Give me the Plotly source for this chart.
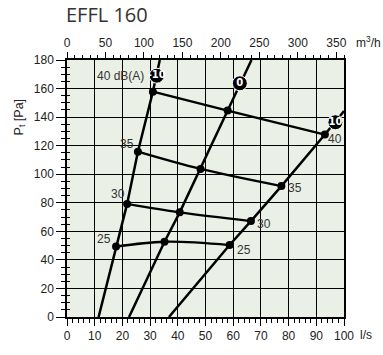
import plotly.graph_objects as go

# ---- data ----
flow_ticks = [0, 10, 20, 30, 40, 50, 60, 70, 80, 90, 100]          # l/s
flow_m3h_ticks = [0, 50, 100, 150, 200, 250, 300, 350]             # m3/h
pressure_ticks = [0, 20, 40, 60, 80, 100, 120, 140, 160, 180]      # Pa

line_m10_x = [11.4, 17.7, 21.7, 25.6, 31.0, 33.5]
line_m10_y = [0, 49.3, 79.2, 115.8, 157.8, 180]
line_0_x = [22.4, 35.2, 40.7, 48.2, 58.0, 66.6]
line_0_y = [0, 52.7, 73.3, 103.7, 144.6, 180]
line_10_x = [36.8, 58.7, 66.4, 77.4, 93.1, 100]
line_10_y = [0, 50.4, 67.2, 91.7, 127.8, 144.2]

db25_x = [17.7, 35.2, 58.7]
db25_y = [49.3, 52.7, 50.4]
db30_x = [21.7, 40.7, 66.4]
db30_y = [79.2, 73.3, 67.2]
db35_x = [25.6, 48.2, 77.4]
db35_y = [115.8, 103.7, 91.7]
db40_x = [31.0, 58.0, 93.1]
db40_y = [157.8, 144.6, 127.8]

label_left_text = ["25", "30", "35", "40 dB(A)"]
label_left_x = [13.4, 18.4, 21.6, 19.4]
label_left_y = [54.7, 86.5, 121.0, 169.0]
label_right_text = ["25", "30", "35", "40"]
label_right_x = [63.8, 71.1, 82.4, 96.6]
label_right_y = [47.2, 64.9, 90.6, 124.4]

badge_text = ["-10", "0", "10"]
badge_x = [32.4, 62.4, 96.9]
badge_y = [169.0, 163.7, 136.4]

# ---- layout geometry ----
W, H = 383, 355
ML, MR, MT, MB = 67, 39, 60, 31
PW, PH = W - ML - MR, H - MT - MB


def px_x(p):
    return (p - ML) / PW


def px_y(p):
    return (H - MB - p) / PH


FONT = "Liberation Sans, Arial, sans-serif"
TXT = "#222222"
BG = "#EBF0E7"

fig = go.Figure()

for xs, ys in [(line_m10_x, line_m10_y), (line_0_x, line_0_y), (line_10_x, line_10_y)]:
    fig.add_trace(go.Scatter(x=xs, y=ys, mode="lines",
                             line=dict(color="black", width=2.5),
                             hoverinfo="skip", showlegend=False, cliponaxis=True))

for xs, ys in [(db25_x, db25_y), (db30_x, db30_y), (db35_x, db35_y), (db40_x, db40_y)]:
    fig.add_trace(go.Scatter(x=xs, y=ys, mode="lines+markers",
                             line=dict(color="black", width=2.3, shape="spline"),
                             marker=dict(color="black", size=8),
                             hoverinfo="skip", showlegend=False))

fig.add_trace(go.Scatter(x=badge_x, y=badge_y, mode="markers+text",
                         text=badge_text, textposition="middle center",
                         textfont=dict(color="white", size=10, family="DejaVu Sans, sans-serif",
                                       weight="bold"),
                         marker=dict(color="black", size=15,
                                     line=dict(color="white", width=1)),
                         hoverinfo="skip", showlegend=False, cliponaxis=False))

# invisible traces to activate the extra axes
fig.add_trace(go.Scatter(x=[0], y=[0], xaxis="x2", yaxis="y", mode="markers",
                         marker=dict(opacity=0), hoverinfo="skip", showlegend=False))
fig.add_trace(go.Scatter(x=[0], y=[0], xaxis="x", yaxis="y3", mode="markers",
                         marker=dict(opacity=0), hoverinfo="skip", showlegend=False))

annotations = []
for t, x, y in zip(label_left_text, label_left_x, label_left_y):
    annotations.append(dict(x=x, y=y, text=t, showarrow=False, xref="x", yref="y",
                            font=dict(size=12, color="#333333", family=FONT)))
for t, x, y in zip(label_right_text, label_right_x, label_right_y):
    annotations.append(dict(x=x, y=y, text=t, showarrow=False, xref="x", yref="y",
                            font=dict(size=12, color="#333333", family=FONT)))

annotations.append(dict(x=px_x(64), y=px_y(13), xref="paper", yref="paper",
                        text="EFFL 160", showarrow=False, xanchor="left", yanchor="middle",
                        font=dict(size=20, color="#333333", family="Open Sans, sans-serif")))
annotations.append(dict(x=px_x(20), y=px_y(119), xref="paper", yref="paper",
                        text="P<sub>t</sub> [Pa]", showarrow=False, textangle=-90,
                        xanchor="center", yanchor="middle",
                        font=dict(size=12.5, color=TXT, family=FONT)))
annotations.append(dict(x=px_x(358), y=px_y(343), xref="paper", yref="paper",
                        text="l/s", showarrow=False, xanchor="left", yanchor="middle",
                        font=dict(size=12, color=TXT, family=FONT)))
annotations.append(dict(x=px_x(354), y=px_y(42), xref="paper", yref="paper",
                        text="m<sup>3</sup>/h", showarrow=False, xanchor="left", yanchor="middle",
                        font=dict(size=12, color=TXT, family=FONT)))

fig.update_layout(
    width=W, height=H,
    margin=dict(l=ML, r=MR, t=MT, b=MB, pad=0),
    paper_bgcolor="white", plot_bgcolor=BG,
    font=dict(family=FONT, size=12, color=TXT),
    showlegend=False,
    annotations=annotations,
    xaxis=dict(range=[0, 100], tickvals=flow_ticks, showgrid=True, gridcolor="black",
               gridwidth=1.4, zeroline=False, showline=True, linecolor="black", linewidth=1.5,
               mirror=True, ticks="outside", ticklen=7, tickwidth=1.3, tickcolor="black",
               minor=dict(dtick=2, ticks="outside", ticklen=4, tickwidth=1, tickcolor="black",
                          showgrid=False),
               tickfont=dict(size=12, color=TXT), fixedrange=True),
    xaxis2=dict(range=[0, 360], overlaying="x", side="top", anchor="y",
                tickvals=flow_m3h_ticks, showgrid=False, zeroline=False,
                ticks="outside", ticklen=7, tickwidth=1.3, tickcolor="black",
                minor=dict(dtick=10, ticks="outside", ticklen=4, tickwidth=1, tickcolor="black",
                           showgrid=False),
                tickfont=dict(size=12, color=TXT), fixedrange=True),
    yaxis=dict(range=[0, 180], tickvals=pressure_ticks, showgrid=True, gridcolor="black",
               gridwidth=1.4, zeroline=False, showline=True, linecolor="black", linewidth=1.5,
               mirror=True, ticks="outside", ticklen=9, tickwidth=1.3, tickcolor="black",
               minor=dict(dtick=5, ticks="outside", ticklen=4, tickwidth=1, tickcolor="black",
                          showgrid=False),
               tickfont=dict(size=12, color=TXT), fixedrange=True),
    yaxis3=dict(range=[0, 180], overlaying="y", side="left", anchor="x",
                tickvals=pressure_ticks, showticklabels=False, showgrid=False, zeroline=False,
                ticks="inside", ticklen=3, tickwidth=1.3, tickcolor="black",
                minor=dict(dtick=5, ticks="inside", ticklen=3, tickwidth=1, tickcolor="black",
                           showgrid=False),
                fixedrange=True),
)

fig.write_html("out.html", config={"displayModeBar": False},
               post_script="document.body.style.margin='0';document.body.style.overflow='hidden';")
